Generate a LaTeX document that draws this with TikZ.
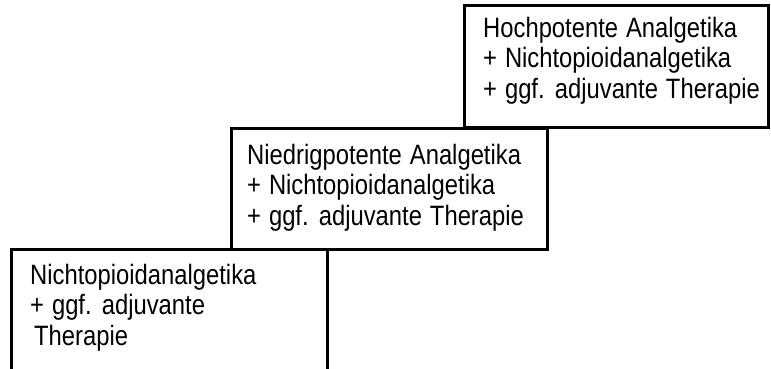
\documentclass[tikz,border=0pt]{standalone}
\usepackage{fontspec}
\setmainfont{Liberation Sans}[FakeStretch=0.85,WordSpace=1.2]
\begin{document}
\begin{tikzpicture}[x=1pt,y=-1pt,
  stepbox/.style={draw=black,line width=3pt,fill=none,anchor=north west,inner sep=0pt,outer sep=0pt},
  steptext/.style={anchor=base west,align=left,inner sep=0pt,font=\fontsize{28}{30.5}\selectfont}]
\useasboundingbox (0,0) rectangle (771,368);
% boxes
\node[stepbox,minimum width=316pt,minimum height=140pt] (b1) at (11,249) {};
\node[stepbox,minimum width=316pt,minimum height=121pt] (b2) at (231,128) {};
\node[stepbox,minimum width=304pt,minimum height=122pt] (b3) at (464,5) {};
% texts (anchored at the baseline of their last line)
\node[steptext] (t1) at (30,345) {Nichtopioidanalgetika\\+ ggf. adjuvante\\\hspace{4pt}Therapie};
\node[steptext] (t2) at (247,225) {Niedrigpotente Analgetika\\+ Nichtopioidanalgetika\\+ ggf. adjuvante Therapie};
\node[steptext] (t3) at (483,98) {Hochpotente Analgetika\\+ Nichtopioidanalgetika\\+ ggf. adjuvante Therapie};
\end{tikzpicture}
\end{document}
